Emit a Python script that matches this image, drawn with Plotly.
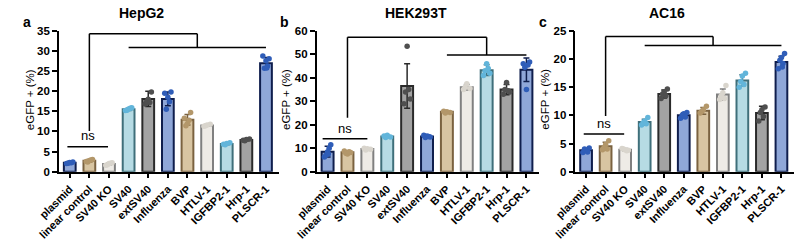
import plotly.graph_objects as go

categories = ["plasmid", "linear control", "SV40 KO", "SV40", "extSV40", "Influenza",
              "BVP", "HTLV-1", "IGFBP2-1", "Hrp-1", "PLSCR-1"]

# HepG2
hepg2_mean = [2.2, 2.7, 1.9, 15.5, 18.1, 18.1, 12.9, 11.5, 6.9, 7.9, 27.0]
hepg2_sd = [0.3, 0.3, 0.3, 0.3, 1.9, 1.7, 1.3, 0.2, 0.2, 0.2, 1.4]
hepg2_points = [
    [2.0, 2.4, 2.3, 2.1, 2.2],
    [2.5, 3.0, 2.8, 2.4, 2.9],
    [1.6, 2.2, 2.0, 1.7, 2.1],
    [15.2, 15.9, 15.6, 15.3, 15.8],
    [16.8, 19.8, 18.0, 17.4, 17.2],
    [19.5, 19.8, 18.5, 15.5, 17.4],
    [13.3, 14.7, 12.0, 11.4, 12.8],
    [11.3, 11.8, 11.6, 11.4],
    [6.8, 7.2, 7.0, 6.7],
    [7.8, 8.1, 8.0, 7.7],
    [28.8, 28.1, 27.6, 25.7, 26.3, 25.8],
]

# HEK293T
hek_mean = [8.5, 8.3, 9.6, 15.0, 36.5, 15.0, 25.5, 36.0, 43.3, 35.0, 43.5]
hek_sd = [2.3, 0.6, 0.4, 0.4, 9.5, 0.4, 0.4, 1.2, 2.3, 2.2, 5.0]
hek_points = [
    [6.2, 11.5, 8.5, 7.0, 10.0, 7.5],
    [8.8, 8.2, 7.5, 7.8, 8.5],
    [10.0, 9.5, 9.8, 9.2],
    [15.2, 14.8, 15.5, 14.6],
    [29.0, 31.0, 53.5, 34.0, 35.0],
    [15.5, 14.8, 15.2, 14.6, 15.0],
    [25.8, 25.2, 25.5, 25.0],
    [35.0, 35.5, 37.5, 36.0],
    [41.0, 42.0, 46.0, 43.0, 44.0],
    [33.0, 34.0, 38.0, 35.0, 34.5],
    [46.0, 46.8, 35.0, 44.5, 45.5],
]

# AC16
ac16_mean = [3.8, 4.5, 3.9, 8.8, 13.8, 10.0, 10.8, 13.7, 16.2, 10.4, 19.5]
ac16_sd = [0.3, 0.7, 0.2, 0.5, 0.7, 0.4, 0.6, 1.0, 1.0, 1.2, 1.0]
ac16_points = [
    [3.4, 4.2, 3.8, 4.0, 3.5],
    [3.9, 5.5, 4.8, 4.3, 4.0],
    [4.1, 3.8, 3.9, 4.0, 3.7],
    [8.3, 9.6, 9.0, 8.7, 8.5],
    [13.0, 14.7, 14.2, 13.8, 13.5],
    [9.5, 10.5, 10.3, 10.0, 9.7],
    [10.4, 11.6, 11.0, 10.7],
    [12.8, 15.3, 14.0, 13.5, 13.0],
    [15.0, 17.5, 17.0, 16.0, 15.5],
    [9.0, 11.5, 11.0, 10.5, 9.8],
    [18.3, 21.0, 20.3, 19.8, 19.2, 18.6],
]

titles = ["HepG2", "HEK293T", "AC16"]
letters = ["a", "b", "c"]
y_max = [35, 60, 25]
y_dtick = [5, 10, 5]

# style per category (fill, outline, dot)
BLUE = ("#8FA7D8", "#0F1E4D", "#2F5DB8")
TAN = ("#D8C5A2", "#7A6240", "#B3976A")
LIGHT = ("#EEEBE6", "#808080", "#D9D5CD")
LBLUE = ("#B6DBE4", "#3F6F7A", "#62B5DA")
GRAY = ("#A3A3A3", "#2A2A2A", "#4F4F4F")
styles = [BLUE, TAN, LIGHT, LBLUE, GRAY, BLUE, TAN, LIGHT, LBLUE, GRAY, BLUE]
jitter = [-0.16, 0.16, 0.0, -0.08, 0.08, 0.04]

# significance annotations (per panel)
brackets = [
    dict(leg_x=1, leg_bot=10.1, top=34.3, mid=6.5, low=30.9, lo_from=3, lo_to=10,
         ns_y=6.2, ns_from=-0.12, ns_to=1.95, ns_text_y=9.0, star_x=3.75, star_y=36.6),
    dict(leg_x=1, leg_bot=23.0, top=57.3, mid=8, low=49.8, lo_from=6, lo_to=10,
         ns_y=14.0, ns_from=-0.25, ns_to=2.0, ns_text_y=18.4, star_x=4.5, star_y=61.2),
    dict(leg_x=1, leg_bot=9.9, top=24.0, mid=6.5, low=22.4, lo_from=3, lo_to=10,
         ns_y=6.7, ns_from=-0.12, ns_to=1.95, ns_text_y=8.5, star_x=3.75, star_y=25.6),
]

W, H = 799, 241
x_dom_px = [(38, 264), (303, 532), (569, 794)]
y_dom = [(241 - 179) / H, (241 - 27) / H]

data_sets = [(hepg2_mean, hepg2_sd, hepg2_points),
             (hek_mean, hek_sd, hek_points),
             (ac16_mean, ac16_sd, ac16_points)]

fig = go.Figure()
shapes = []
annotations = []
FONT = "Liberation Sans"

for p, (means, sds, pts) in enumerate(data_sets):
    sfx = "" if p == 0 else str(p + 1)
    xa, ya = "x" + sfx, "y" + sfx
    for i, cat in enumerate(categories):
        fill, edge, dot = styles[i]
        fig.add_trace(go.Bar(
            x=[i], y=[means[i]], width=0.6, xaxis=xa, yaxis=ya,
            marker=dict(color=fill, line=dict(color=edge, width=2)),
            error_y=dict(type="data", array=[sds[i]], color=edge, thickness=1.5, width=3),
            showlegend=False, hoverinfo="skip"))
    for i, cat in enumerate(categories):
        fill, edge, dot = styles[i]
        xs = [i + jitter[k % len(jitter)] for k in range(len(pts[i]))]
        fig.add_trace(go.Scatter(
            x=xs, y=pts[i], mode="markers", xaxis=xa, yaxis=ya,
            marker=dict(color=dot, size=5.5, line=dict(width=0)),
            cliponaxis=False, showlegend=False, hoverinfo="skip"))

    x0, x1 = x_dom_px[p]
    axis_common = dict(showgrid=False, zeroline=False, showline=True, linecolor="black",
                       linewidth=1.5, ticks="outside", ticklen=5, tickwidth=1.5,
                       tickcolor="black")
    fig.update_layout(**{
        "xaxis" + sfx: dict(domain=[x0 / W, x1 / W], range=[-0.55, 10.65],
                            tickvals=list(range(len(categories))), ticktext=categories,
                            tickangle=-45, anchor=ya,
                            tickfont=dict(family=FONT, size=11, color="black", weight="bold"),
                            **axis_common),
        "yaxis" + sfx: dict(domain=y_dom, range=[0, y_max[p]], dtick=y_dtick[p],
                            tick0=0, anchor=xa,
                            tickfont=dict(family=FONT, size=11.5, color="black", weight="bold"),
                            **axis_common),
    })

    b = brackets[p]
    line = dict(color="black", width=1.5)
    segs = [
        (b["leg_x"], b["leg_bot"], b["leg_x"], b["top"]),
        (b["leg_x"], b["top"], b["mid"], b["top"]),
        (b["mid"], b["top"], b["mid"], b["low"]),
        (b["lo_from"], b["low"], b["lo_to"], b["low"]),
        (b["ns_from"], b["ns_y"], b["ns_to"], b["ns_y"]),
    ]
    for (sx0, sy0, sx1, sy1) in segs:
        shapes.append(dict(type="line", xref=xa, yref=ya, x0=sx0, y0=sy0, x1=sx1, y1=sy1,
                           line=line))
    annotations.append(dict(x=b["star_x"], y=b["star_y"], xref=xa, yref=ya, text="****",
                            showarrow=False,
                            font=dict(family=FONT, size=15, color="black", weight="bold"),
                            xanchor="center", yanchor="middle"))
    annotations.append(dict(x=(b["ns_from"] + b["ns_to"]) / 2, y=b["ns_text_y"], xref=xa, yref=ya,
                            text="ns", showarrow=False,
                            font=dict(family=FONT, size=13, color="black"),
                            xanchor="center", yanchor="middle"))

# titles, letters, y-axis titles
title_px = [(123, 8), (405, 8), (663, 8)]
letter_px = [(5, 17), (270, 17), (536, 17)]
ytitle_px = [(9, 101), (272, 101), (538, 101)]
for p in range(3):
    tx, ty = title_px[p]
    annotations.append(dict(x=tx / W, y=1 - ty / H, xref="paper", yref="paper", text=titles[p],
                            showarrow=False, xanchor="center", yanchor="middle",
                            font=dict(family=FONT, size=14, color="black", weight="bold")))
    lx, ly = letter_px[p]
    annotations.append(dict(x=lx / W, y=1 - ly / H, xref="paper", yref="paper", text=letters[p],
                            showarrow=False, xanchor="center", yanchor="middle",
                            font=dict(family=FONT, size=14, color="black", weight="bold")))
    yx, yy = ytitle_px[p]
    annotations.append(dict(x=yx / W, y=1 - yy / H, xref="paper", yref="paper", text="eGFP + (%)",
                            showarrow=False, xanchor="center", yanchor="middle", textangle=-90,
                            font=dict(family=FONT, size=11.5, color="black")))

fig.update_layout(width=W, height=H, margin=dict(l=0, r=0, t=0, b=0),
                  plot_bgcolor="white", paper_bgcolor="white",
                  shapes=shapes, annotations=annotations, barmode="overlay",
                  font=dict(family=FONT, color="black"))

fig.write_html("out.html")
